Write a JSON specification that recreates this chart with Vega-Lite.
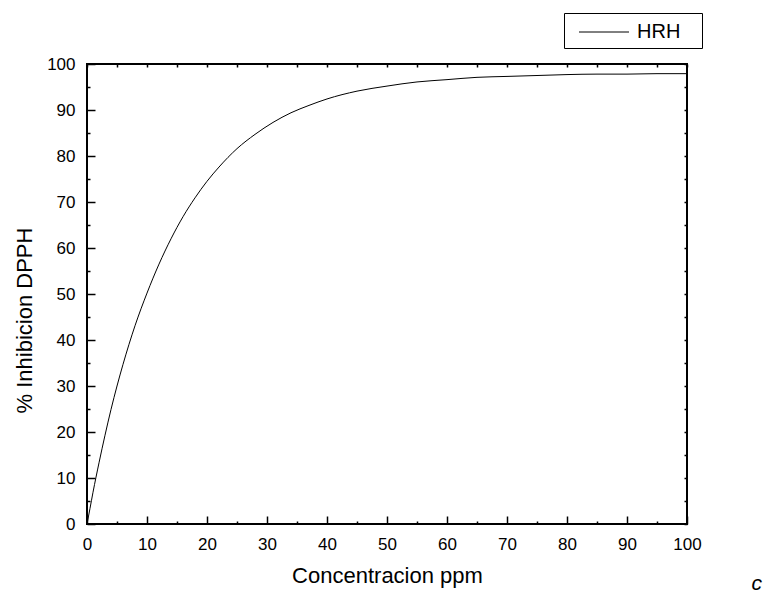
{
  "$schema": "https://vega.github.io/schema/vega-lite/v6.json",
  "width": 600,
  "height": 460,
  "autosize": {"type": "none"},
  "padding": {"left": 87, "top": 64, "right": 78, "bottom": 73},
  "background": "white",
  "config": {
    "view": {"stroke": "black", "strokeWidth": 2},
    "font": "Liberation Sans",
    "axis": {
      "grid": false,
      "domain": false,
      "labelFont": "Liberation Sans",
      "labelFontSize": 17,
      "labelColor": "black",
      "titleFont": "Liberation Sans",
      "titleFontSize": 22,
      "titleFontWeight": "normal",
      "titleColor": "black",
      "tickColor": "black",
      "tickWidth": 1.5
    },
    "legend": {
      "title": null,
      "orient": "none",
      "legendX": 477,
      "legendY": -51,
      "strokeColor": "black",
      "strokeWidth": 1,
      "fillColor": "white",
      "padding": 6,
      "cornerRadius": 0,
      "symbolType": "M-2,0L2,0",
      "symbolSize": 625,
      "symbolStrokeWidth": 1,
      "symbolOffset": 21,
      "labelOffset": 20,
      "labelFontSize": 20,
      "labelFont": "Liberation Sans",
      "labelColor": "black"
    }
  },
  "title": {
    "text": "c",
    "orient": "bottom",
    "anchor": "end",
    "frame": "group",
    "fontStyle": "italic",
    "fontWeight": "normal",
    "fontSize": 21,
    "font": "Liberation Sans",
    "color": "black",
    "baseline": "alphabetic",
    "dx": 75,
    "offset": 4
  },
  "data": {
    "values": [
      {"conc": 0, "inh": 0, "series": "HRH"},
      {"conc": 0.5, "inh": 3.4, "series": "HRH"},
      {"conc": 1, "inh": 6.9, "series": "HRH"},
      {"conc": 2, "inh": 13.3, "series": "HRH"},
      {"conc": 3, "inh": 19.3, "series": "HRH"},
      {"conc": 4, "inh": 24.9, "series": "HRH"},
      {"conc": 5, "inh": 30.0, "series": "HRH"},
      {"conc": 6, "inh": 34.7, "series": "HRH"},
      {"conc": 8, "inh": 43.1, "series": "HRH"},
      {"conc": 10, "inh": 50.2, "series": "HRH"},
      {"conc": 12, "inh": 56.5, "series": "HRH"},
      {"conc": 14, "inh": 62.0, "series": "HRH"},
      {"conc": 16, "inh": 66.8, "series": "HRH"},
      {"conc": 18, "inh": 70.9, "series": "HRH"},
      {"conc": 20, "inh": 74.5, "series": "HRH"},
      {"conc": 22, "inh": 77.6, "series": "HRH"},
      {"conc": 25, "inh": 81.6, "series": "HRH"},
      {"conc": 28, "inh": 84.7, "series": "HRH"},
      {"conc": 31, "inh": 87.3, "series": "HRH"},
      {"conc": 34, "inh": 89.4, "series": "HRH"},
      {"conc": 37, "inh": 91.0, "series": "HRH"},
      {"conc": 40, "inh": 92.4, "series": "HRH"},
      {"conc": 45, "inh": 94.1, "series": "HRH"},
      {"conc": 50, "inh": 95.2, "series": "HRH"},
      {"conc": 55, "inh": 96.1, "series": "HRH"},
      {"conc": 60, "inh": 96.6, "series": "HRH"},
      {"conc": 65, "inh": 97.1, "series": "HRH"},
      {"conc": 70, "inh": 97.3, "series": "HRH"},
      {"conc": 75, "inh": 97.5, "series": "HRH"},
      {"conc": 80, "inh": 97.7, "series": "HRH"},
      {"conc": 85, "inh": 97.8, "series": "HRH"},
      {"conc": 90, "inh": 97.8, "series": "HRH"},
      {"conc": 95, "inh": 97.9, "series": "HRH"},
      {"conc": 100, "inh": 97.9, "series": "HRH"}
    ]
  },
  "layer": [
    {
      "mark": {"type": "line", "strokeWidth": 1, "interpolate": "monotone"},
      "encoding": {
        "x": {
          "field": "conc",
          "type": "quantitative",
          "scale": {"domain": [0, 100], "nice": false, "zero": false},
          "axis": {
            "orient": "bottom",
            "title": "Concentracion ppm",
            "values": [0, 5, 10, 15, 20, 25, 30, 35, 40, 45, 50, 55, 60, 65, 70, 75, 80, 85, 90, 95, 100],
            "labelExpr": "datum.value % 10 === 0 ? datum.label : ''",
            "tickSize": {"condition": {"test": "datum.value % 10 === 0", "value": -8}, "value": -3},
            "labelPadding": 20,
            "labelFlush": false,
            "labelOverlap": false,
            "titleX": 300,
            "titleY": 58,
            "titleBaseline": "alphabetic",
            "titleAlign": "center"
          }
        },
        "y": {
          "field": "inh",
          "type": "quantitative",
          "scale": {"domain": [0, 100], "nice": false, "zero": false},
          "axis": {
            "orient": "left",
            "title": "% Inhibicion DPPH",
            "values": [0, 5, 10, 15, 20, 25, 30, 35, 40, 45, 50, 55, 60, 65, 70, 75, 80, 85, 90, 95, 100],
            "labelExpr": "datum.value % 10 === 0 ? datum.label : ''",
            "tickSize": {"condition": {"test": "datum.value % 10 === 0", "value": -8}, "value": -3},
            "labelPadding": 20,
            "labelFlush": false,
            "labelOverlap": false,
            "titleX": -56,
            "titleY": 256,
            "titleBaseline": "alphabetic",
            "titleAlign": "center",
            "titleAngle": -90
          }
        },
        "color": {
          "field": "series",
          "type": "nominal",
          "scale": {"range": ["black"]},
          "legend": {"labelExpr": "datum.label + '\u2800'"}
        }
      }
    },
    {
      "mark": {"type": "line", "opacity": 0},
      "encoding": {
        "x": {
          "field": "conc",
          "type": "quantitative",
          "axis": {
            "orient": "top",
            "title": null,
            "labels": false,
            "values": [0, 5, 10, 15, 20, 25, 30, 35, 40, 45, 50, 55, 60, 65, 70, 75, 80, 85, 90, 95, 100],
            "tickSize": -3
          }
        },
        "y": {
          "field": "inh",
          "type": "quantitative",
          "axis": {
            "orient": "right",
            "title": null,
            "labels": false,
            "values": [0, 5, 10, 15, 20, 25, 30, 35, 40, 45, 50, 55, 60, 65, 70, 75, 80, 85, 90, 95, 100],
            "tickSize": -3
          }
        }
      }
    }
  ],
  "resolve": {"axis": {"x": "independent", "y": "independent"}}
}
